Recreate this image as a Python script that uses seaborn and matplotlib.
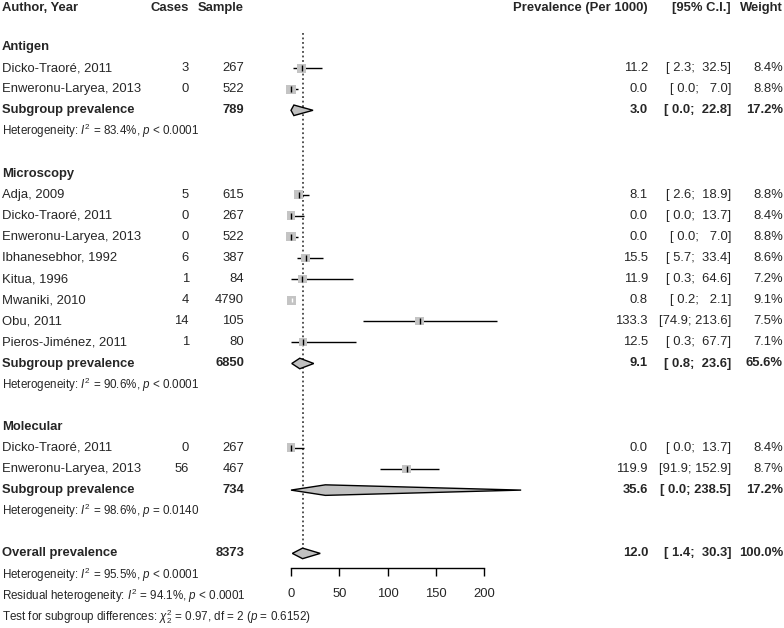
import numpy as np
import pandas as pd
import matplotlib
matplotlib.use("Agg")
import matplotlib.pyplot as plt
import matplotlib.transforms as mtransforms
from matplotlib.patches import Polygon
import seaborn as sns

# study level data
group = ["Antigen"] * 2 + ["Microscopy"] * 8 + ["Molecular"] * 2
author = ["Dicko-Traoré, 2011", "Enweronu-Laryea, 2013",
          "Adja, 2009", "Dicko-Traoré, 2011", "Enweronu-Laryea, 2013", "Ibhanesebhor, 1992",
          "Kitua, 1996", "Mwaniki, 2010", "Obu, 2011", "Pieros-Jiménez, 2011",
          "Dicko-Traoré, 2011", "Enweronu-Laryea, 2013"]
cases = [3, 0, 5, 0, 0, 6, 1, 4, 14, 1, 0, 56]
sample = [267, 522, 615, 267, 522, 387, 84, 4790, 105, 80, 267, 467]
prev = [11.2, 0.0, 8.1, 0.0, 0.0, 15.5, 11.9, 0.8, 133.3, 12.5, 0.0, 119.9]
lower = [2.3, 0.0, 2.6, 0.0, 0.0, 5.7, 0.3, 0.2, 74.9, 0.3, 0.0, 91.9]
upper = [32.5, 7.0, 18.9, 13.7, 7.0, 33.4, 64.6, 2.1, 213.6, 67.7, 13.7, 152.9]
weight = [8.4, 8.8, 8.8, 8.4, 8.8, 8.6, 7.2, 9.1, 7.5, 7.1, 8.4, 8.7]

# subgroup pooled results
groups = ["Antigen", "Microscopy", "Molecular"]
sub_sample = [789, 6850, 734]
sub_prev = [3.0, 9.1, 35.6]
sub_lower = [0.0, 0.8, 0.0]
sub_upper = [22.8, 23.6, 238.5]
sub_weight = [17.2, 65.6, 17.2]
sub_i2 = [83.4, 90.6, 98.6]
sub_p = ["< 0.0001", "< 0.0001", "= 0.0140"]

# overall
all_sample = 8373
all_prev, all_lower, all_upper = 12.0, 1.4, 30.3
all_i2, all_p = 95.5, "< 0.0001"
resid_i2, resid_p = 94.1, "< 0.0001"
q_between, q_df, q_p = 0.97, 2, 0.6152

xticks = [0, 50, 100, 150, 200]

sns.set_style("white")
plt.rcParams["font.family"] = ["Liberation Sans", "DejaVu Sans"]
plt.rcParams["mathtext.fontset"] = "custom"
plt.rcParams["mathtext.rm"] = "Liberation Sans"
plt.rcParams["mathtext.it"] = "Liberation Sans:italic"
plt.rcParams["mathtext.bf"] = "Liberation Sans:bold"

W, H = 784, 628
fig = plt.figure(figsize=(W / 100, H / 100), dpi=100)
ax = fig.add_axes([0, 0, 1, 1])

# pixel geometry of the reference
x0_px, ppu = 291.0, 0.965
row0_px, row_px = 47.0, 21.1
ax.set_xlim(-x0_px / ppu, (W - x0_px) / ppu)
ax.set_ylim((H - row0_px) / row_px, -row0_px / row_px)

tr = mtransforms.blended_transform_factory(fig.transFigure, ax.transData)
FS, FS_SMALL = 9.4, 8.4


def col(px):
    return px / W


def fmt_ci(lo, up):
    return "[%4.1f; %5.1f]" % (lo, up)


def put_row(r, label, cs, n, p, lo, up, w, bold=False):
    fw = "bold" if bold else "normal"
    ax.text(col(2), r, label, transform=tr, ha="left", va="center", fontsize=FS, fontweight=fw)
    if cs is not None:
        ax.text(col(189), r, str(cs), transform=tr, ha="right", va="center", fontsize=FS, fontweight=fw)
    ax.text(col(244), r, str(n), transform=tr, ha="right", va="center", fontsize=FS, fontweight=fw)
    ax.text(col(648), r, "%.1f" % p, transform=tr, ha="right", va="center", fontsize=FS, fontweight=fw)
    ax.text(col(731), r, fmt_ci(lo, up), transform=tr, ha="right", va="center", fontsize=FS, fontweight=fw)
    ax.text(col(783), r, "%.1f%%" % w, transform=tr, ha="right", va="center", fontsize=FS, fontweight=fw)


def diamond(r, p, lo, up, h=0.25):
    ax.add_patch(Polygon([[lo, r], [p, r - h], [up, r], [p, r + h]], closed=True,
                         facecolor="#c0c0c0", edgecolor="black", lw=1.0, zorder=4))


# header
hr = -1.85
for px, txt, ha in [(2, "Author, Year", "left"), (189, "Cases", "right"), (244, "Sample", "right"),
                    (648, "Prevalence (Per 1000)", "right"), (731, "[95% C.I.]", "right"),
                    (783, "Weight", "right")]:
    ax.text(col(px), hr, txt, transform=tr, ha=ha, va="center", fontsize=FS, fontweight="bold")

df = pd.DataFrame({"group": group, "author": author, "cases": cases, "sample": sample,
                   "prev": prev, "lower": lower, "upper": upper, "weight": weight})

rows = []
r = 0
for gi, g in enumerate(groups):
    ax.text(col(2), r, g, transform=tr, ha="left", va="center", fontsize=FS, fontweight="bold")
    sub = df[df.group == g]
    for _, s in sub.iterrows():
        r += 1
        rows.append(r)
        put_row(r, s.author, s.cases, s["sample"], s.prev, s.lower, s.upper, s.weight)
    r += 1
    put_row(r, "Subgroup prevalence", None, sub_sample[gi], sub_prev[gi], sub_lower[gi],
            sub_upper[gi], sub_weight[gi], bold=True)
    diamond(r, sub_prev[gi], sub_lower[gi], sub_upper[gi])
    r += 1
    ax.text(col(2), r, "Heterogeneity: $\\mathit{I}^2$ = %.1f%%, $\\mathit{p}$ %s" % (sub_i2[gi], sub_p[gi]),
            transform=tr, ha="left", va="center", fontsize=FS_SMALL)
    r += 2
df["row"] = rows

put_row(r, "Overall prevalence", None, all_sample, all_prev, all_lower, all_upper, 100.0, bold=True)
diamond(r, all_prev, all_lower, all_upper)
overall_row = r
ax.text(col(2), r + 1, "Heterogeneity: $\\mathit{I}^2$ = %.1f%%, $\\mathit{p}$ %s" % (all_i2, all_p),
        transform=tr, ha="left", va="center", fontsize=FS_SMALL)
ax.text(col(2), r + 2, "Residual heterogeneity: $\\mathit{I}^2$ = %.1f%%, $\\mathit{p}$ %s" % (resid_i2, resid_p),
        transform=tr, ha="left", va="center", fontsize=FS_SMALL)
ax.text(col(2), r + 3, "Test for subgroup differences: $\\chi^2_{%d}$ = %.2f, df = %d ($\\mathit{p}$ = %.4f)"
        % (q_df, q_between, q_df, q_p),
        transform=tr, ha="left", va="center", fontsize=FS_SMALL)

# confidence intervals and boxes
ax.hlines(df.row, df.lower, df.upper, color="black", lw=1.0, zorder=2)
sns.scatterplot(data=df, x="prev", y="row", size="weight", sizes=(0, 48), size_norm=(0, 10),
                marker="s", color="#c4c4c4", edgecolor="none", linewidth=0, legend=False,
                ax=ax, zorder=3)
inside = (df.upper - df.lower) * ppu < 5
ax.scatter(df.prev[~inside], df.row[~inside], marker="|", s=16, color="black", lw=1.0, zorder=5)
ax.scatter(df.prev[inside], df.row[inside], marker="|", s=10, color="white", lw=1.0, zorder=5)

# reference line at the overall estimate
ax.plot([all_prev, all_prev], [-0.66, overall_row], color="#444444", lw=1.3,
        ls=(0, (1, 1.5)), zorder=1)

ax.set_xlim(-x0_px / ppu, (W - x0_px) / ppu)
ax.set_ylim((H - row0_px) / row_px, -row0_px / row_px)
ax.set_xlabel("")
ax.set_ylabel("")
ax.set_yticks([])
for s in ["left", "right", "top"]:
    ax.spines[s].set_visible(False)
ax.spines["bottom"].set_position(("data", (567.7 - row0_px) / row_px))
ax.spines["bottom"].set_bounds(0, 200)
ax.spines["bottom"].set_linewidth(1.0)
ax.spines["bottom"].set_color("black")
ax.set_xticks(xticks)
ax.tick_params(axis="x", direction="out", length=5.4, width=1.0, color="black",
               labelsize=FS, pad=9, bottom=True)

fig.savefig("out.png", dpi=100)
